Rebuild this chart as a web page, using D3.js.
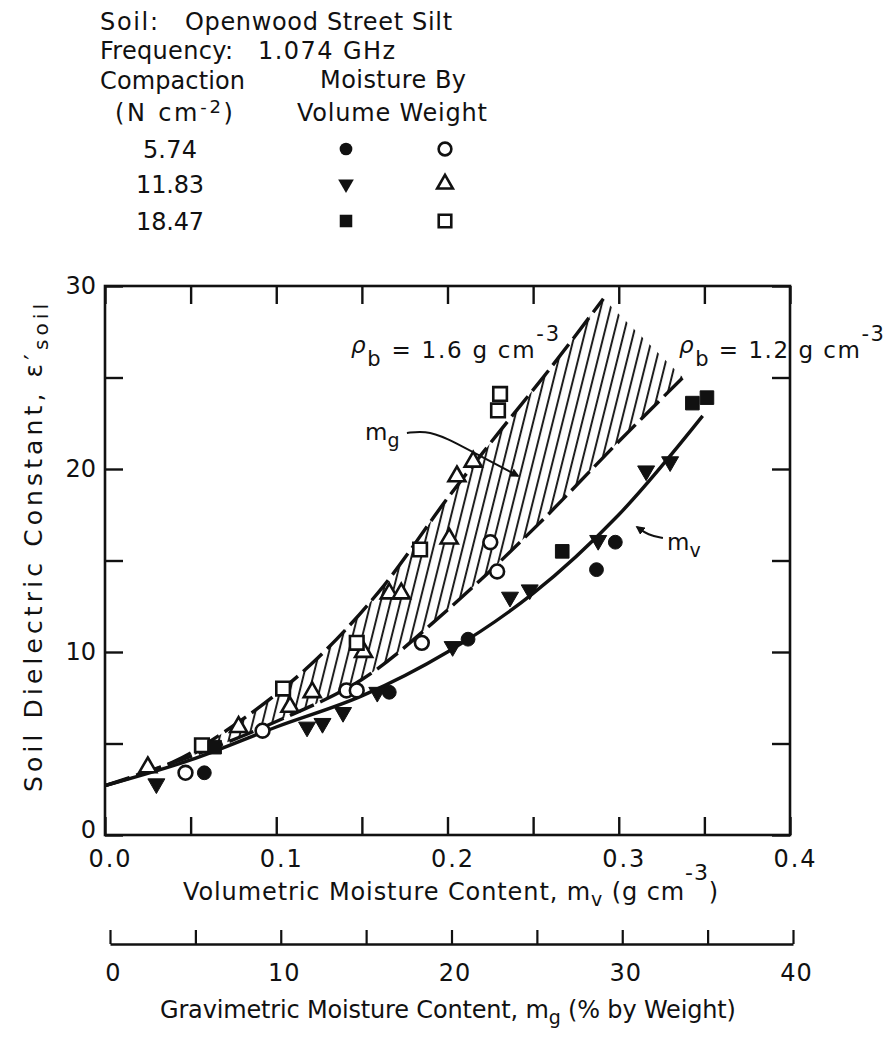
<!DOCTYPE html>
<html>
<head>
<meta charset="utf-8">
<script src="https://cdn.jsdelivr.net/npm/d3@7"></script>
<style>
  html, body { margin: 0; padding: 0; background: #fff; }
  svg text { font-family: "DejaVu Sans", "Noto Sans", sans-serif; fill: #111; }
</style>
</head>
<body>
<svg id="chart" width="892" height="1063"></svg>
<script>
// ---- Measured points: [volumetric moisture m_v (g cm^-3), dielectric constant] ----
// moisture measured by volume (filled symbols)
const vol574  = [[0.058,3.4],[0.166,7.8],[0.212,10.7],[0.287,14.5],[0.298,16.0]];
const vol1183 = [[0.030,2.8],[0.118,5.9],[0.127,6.1],[0.139,6.7],[0.159,7.8],[0.203,10.3],
                 [0.2365,13.0],[0.248,13.4],[0.288,16.1],[0.316,19.9],[0.330,20.4]];
const vol1847 = [[0.064,4.8],[0.267,15.5],[0.343,23.6],[0.3515,23.9]];
// moisture measured by weight (open symbols)
const wt574  = [[0.047,3.4],[0.092,5.7],[0.141,7.9],[0.147,7.9],[0.185,10.5],[0.225,16.0],[0.229,14.4]];
const wt1183 = [[0.025,3.7],[0.078,5.9],[0.108,7.0],[0.121,7.8],[0.151,10.0],[0.166,13.2],
                [0.173,13.2],[0.201,16.2],[0.2055,19.6],[0.215,20.4]];
const wt1847 = [[0.0566,4.9],[0.104,8.0],[0.147,10.5],[0.184,15.6],[0.2295,23.2],[0.2307,24.1]];

// ---- Fitted curves ----
const mvCurve = [[0,2.7],[0.05,4.1],[0.10,5.9],[0.15,7.6],[0.20,10.0],[0.25,13.2],[0.30,17.5],[0.349,22.9]];
const rho16   = [[0,2.7],[0.04,4.0],[0.08,6.3],[0.12,9.3],[0.16,13.3],[0.20,18.4],[0.23,22.0],[0.26,25.5],[0.291,29.3]];
const rho12   = [[0,2.7],[0.05,4.3],[0.10,6.2],[0.15,8.5],[0.20,12.3],[0.25,16.7],[0.30,21.5],[0.3375,25.0]];

// ---- Annotation arrows (data units) ----
const mgArrow = [[0.1763,21.97],[0.1869,22.08],[0.1985,21.75],[0.219,20.71],[0.2412,19.62]];
const mvArrow = [[0.3258,16.23],[0.3171,16.39],[0.3107,16.83]];

// ---- Ticks and legend text ----
const xTicks  = d3.range(0, 9).map(i => i * 0.05);
const yTicks  = d3.range(0, 7).map(i => i * 5);
const mgTicks = d3.range(0, 9).map(i => i * 5);
const compactionLabels = ["5.74", "11.83", "18.47"];

const svg = d3.select("#chart");
const x  = d3.scaleLinear([0, 0.4], [105, 790]);
const y  = d3.scaleLinear([0, 30], [835, 286]);
const mg = d3.scaleLinear([0, 40], [110, 793]);

const fs = 24;
const INK = "#111";
const FONT = '"DejaVu Sans", "Noto Sans", sans-serif';

// spread a text's letters so that it covers the given width
function fitWidth(t, target) {
  const w = t.node().getBBox().width;
  const n = t.text().length;
  if (n > 1) t.attr("letter-spacing", ((target - w) / (n - 1)).toFixed(2));
  return t;
}

// ---- Header block ----
const head = svg.append("g").attr("font-size", fs);
fitWidth(head.append("text").attr("x", 100).attr("y", 30).text("Soil:"), 58);
fitWidth(head.append("text").attr("x", 185).attr("y", 30).text("Openwood Street Silt"), 267);
fitWidth(head.append("text").attr("x", 100).attr("y", 59).text("Frequency:"), 133);
fitWidth(head.append("text").attr("x", 258).attr("y", 59).text("1.074 GHz"), 137);
fitWidth(head.append("text").attr("x", 100).attr("y", 89).text("Compaction"), 145);
fitWidth(head.append("text").attr("x", 320).attr("y", 88).text("Moisture By"), 146);
const nl = head.append("text").attr("x", 115).attr("y", 121);
nl.append("tspan").text("(N cm");
nl.append("tspan").attr("dy", -8).attr("font-size", 18).text("-2");
nl.append("tspan").attr("dy", 8).text(")");
fitWidth(nl, 118);
fitWidth(head.append("text").attr("x", 297).attr("y", 121).text("Volume Weight"), 190);

const rowY = [149, 184, 221];
const legendRows = [
  { label: compactionLabels[0], vol: d3.symbolCircle,   wt: d3.symbolCircle,   rot: 0 },
  { label: compactionLabels[1], vol: d3.symbolTriangle, wt: d3.symbolTriangle, rot: 180 },
  { label: compactionLabels[2], vol: d3.symbolSquare,   wt: d3.symbolSquare,   rot: 0 }
];
const symSize = t => t === d3.symbolCircle ? 150 : t === d3.symbolTriangle ? 125 : 185;
legendRows.forEach((r, i) => {
  fitWidth(head.append("text").attr("x", 170).attr("y", rowY[i] + 9).attr("text-anchor", "middle")
    .text(r.label), r.label.length === 4 ? 54 : 68);
  head.append("path").attr("d", d3.symbol(r.vol, symSize(r.vol) * 0.85)())
    .attr("transform", `translate(346,${rowY[i]}) rotate(${r.rot})`).attr("fill", INK);
  head.append("path").attr("d", d3.symbol(r.wt, symSize(r.wt) * 0.85)())
    .attr("transform", `translate(445,${rowY[i]})`).attr("fill", "#fff")
    .attr("stroke", INK).attr("stroke-width", 2.6);
});

// ---- Hatched region between the two bulk-density curves ----
const defs = svg.append("defs");
const pat = defs.append("pattern").attr("id", "hatch").attr("patternUnits", "userSpaceOnUse")
  .attr("width", 9.5).attr("height", 20).attr("patternTransform", "rotate(14)");
pat.append("line").attr("x1", 2).attr("y1", -2).attr("x2", 2).attr("y2", 22)
  .attr("stroke", INK).attr("stroke-width", 1.9);
defs.append("marker").attr("id", "arrow").attr("viewBox", "0 0 10 10").attr("refX", 8).attr("refY", 5)
  .attr("markerWidth", 4.5).attr("markerHeight", 4.5).attr("orient", "auto")
  .append("path").attr("d", "M0,0 L10,5 L0,10 Z").attr("fill", INK);

const lineC = d3.line().x(d => x(d[0])).y(d => y(d[1])).curve(d3.curveCatmullRom.alpha(0.5));
const hatchD = lineC(rho16) + "L" + lineC(rho12.slice().reverse()).slice(1) + "Z";
svg.append("path").attr("d", hatchD).attr("fill", "url(#hatch)").attr("stroke", "none");

// ---- Curves ----
svg.append("path").attr("d", lineC(rho16)).attr("fill", "none").attr("stroke", INK)
  .attr("stroke-width", 3.4).attr("stroke-dasharray", "26,7");
svg.append("path").attr("d", lineC(rho12)).attr("fill", "none").attr("stroke", INK)
  .attr("stroke-width", 3.4).attr("stroke-dasharray", "26,7");
svg.append("path").attr("d", lineC(mvCurve)).attr("fill", "none").attr("stroke", INK)
  .attr("stroke-width", 3.4);

// ---- Data points ----
function plotSeries(data, type, filled, rot) {
  svg.append("g").selectAll("path").data(data).join("path")
    .attr("d", d3.symbol(type, symSize(type))())
    .attr("transform", d => `translate(${x(d[0])},${y(d[1])}) rotate(${rot})`)
    .attr("fill", filled ? INK : "#fff")
    .attr("stroke", INK).attr("stroke-width", filled ? 1 : 2.6);
}
plotSeries(wt574,  d3.symbolCircle,   false, 0);
plotSeries(wt1183, d3.symbolTriangle, false, 0);
plotSeries(wt1847, d3.symbolSquare,   false, 0);
plotSeries(vol574,  d3.symbolCircle,   true, 0);
plotSeries(vol1183, d3.symbolTriangle, true, 180);
plotSeries(vol1847, d3.symbolSquare,   true, 0);

// ---- Annotations ----
const ann = svg.append("g").attr("font-size", 23);
const arrowLine = d3.line().x(d => x(d[0])).y(d => y(d[1])).curve(d3.curveBasis);
ann.append("path").attr("d", arrowLine(mgArrow)).attr("fill", "none").attr("stroke", INK)
  .attr("stroke-width", 2).attr("marker-end", "url(#arrow)");
ann.append("path").attr("d", arrowLine(mvArrow)).attr("fill", "none").attr("stroke", INK)
  .attr("stroke-width", 2).attr("marker-end", "url(#arrow)");
const mgL = ann.append("text").attr("x", 365).attr("y", 440);
mgL.append("tspan").text("m");
mgL.append("tspan").attr("dy", 7).attr("font-size", 19).text("g");
const mvL = ann.append("text").attr("x", 667).attr("y", 550);
mvL.append("tspan").text("m");
mvL.append("tspan").attr("dy", 7).attr("font-size", 19).text("v");

function rhoLabel(x0, value, width) {
  const t = ann.append("text").attr("x", x0).attr("y", 358);
  t.append("tspan").attr("font-style", "italic").attr("dy", -5).text("ρ");
  t.append("tspan").attr("dy", 13).attr("font-size", 21).text("b");
  t.append("tspan").attr("dy", -8).text(` = ${value} g cm`);
  t.append("tspan").attr("dy", -17).attr("font-size", 21).text("-3");
  fitWidth(t, width);
}
rhoLabel(351, "1.6", 208);
rhoLabel(679, "1.2", 205);

// ---- Axes ----
const fmt1 = d => Math.abs(d * 10 - Math.round(d * 10)) < 1e-6 ? d3.format(".1f")(d) : "";
const gBottom = svg.append("g").attr("transform", "translate(0,835)")
  .call(d3.axisBottom(x).tickValues(xTicks).tickSize(-18).tickPadding(15).tickFormat(fmt1));
const gTop = svg.append("g").attr("transform", "translate(0,286)")
  .call(d3.axisTop(x).tickValues(xTicks).tickSize(-18).tickFormat(""));
const gLeft = svg.append("g").attr("transform", "translate(105,0)")
  .call(d3.axisLeft(y).tickValues(yTicks).tickSize(-18).tickPadding(9)
    .tickFormat(d => d % 10 === 0 ? d : ""));
const gRight = svg.append("g").attr("transform", "translate(790,0)")
  .call(d3.axisRight(y).tickValues(yTicks).tickSize(-18).tickFormat(""));
[gBottom, gTop, gLeft, gRight].forEach(g => {
  g.select(".domain").remove();
  g.selectAll("line").attr("stroke", INK).attr("stroke-width", 2.4);
  g.selectAll("text").attr("font-size", fs).attr("fill", INK).attr("font-family", FONT);
});
gBottom.selectAll("text").attr("dx", 5).attr("letter-spacing", 2);
// keep the origin label of the value axis clear of the "0.0" below it
gLeft.selectAll(".tick").filter(d => d === 0).select("text").attr("dy", "0.12em");
svg.append("rect").attr("x", 105).attr("y", 286).attr("width", 685).attr("height", 549)
  .attr("fill", "none").attr("stroke", INK).attr("stroke-width", 2.6);

// Gravimetric axis beneath
const gMg = svg.append("g").attr("transform", "translate(0,944)")
  .call(d3.axisBottom(mg).tickValues(mgTicks).tickSize(-14).tickSizeOuter(0).tickPadding(20)
    .tickFormat(d => d % 10 === 0 ? d : ""));
gMg.select(".domain").attr("stroke", INK).attr("stroke-width", 2.6);
gMg.selectAll("line").attr("stroke", INK).attr("stroke-width", 2.2);
gMg.selectAll("text").attr("font-size", fs).attr("fill", INK).attr("font-family", FONT)
  .attr("dx", 3).attr("letter-spacing", 1);

// ---- Axis titles ----
const xt = svg.append("text").attr("x", 183).attr("y", 900).attr("font-size", 24);
xt.append("tspan").text("Volumetric Moisture Content, m");
xt.append("tspan").attr("dy", 6).attr("font-size", 19).text("v");
xt.append("tspan").attr("dy", -6).text(" (g cm");
xt.append("tspan").attr("dy", -20).attr("font-size", 22).text("-3");
xt.append("tspan").attr("dy", 20).text(")");
fitWidth(xt, 535);

const gt = svg.append("text").attr("x", 160).attr("y", 1018).attr("font-size", 24);
gt.append("tspan").text("Gravimetric Moisture Content, m");
gt.append("tspan").attr("dy", 6).attr("font-size", 19).text("g");
gt.append("tspan").attr("dy", -6).text(" (% by Weight)");
fitWidth(gt, 576);

const yt = svg.append("text").attr("transform", "translate(42,792) rotate(-90)").attr("font-size", 25);
yt.append("tspan").text("Soil Dielectric Constant,  ε′");
yt.append("tspan").attr("dy", 6).attr("font-size", 20).text("soil");
fitWidth(yt, 492);
</script>
</body>
</html>
